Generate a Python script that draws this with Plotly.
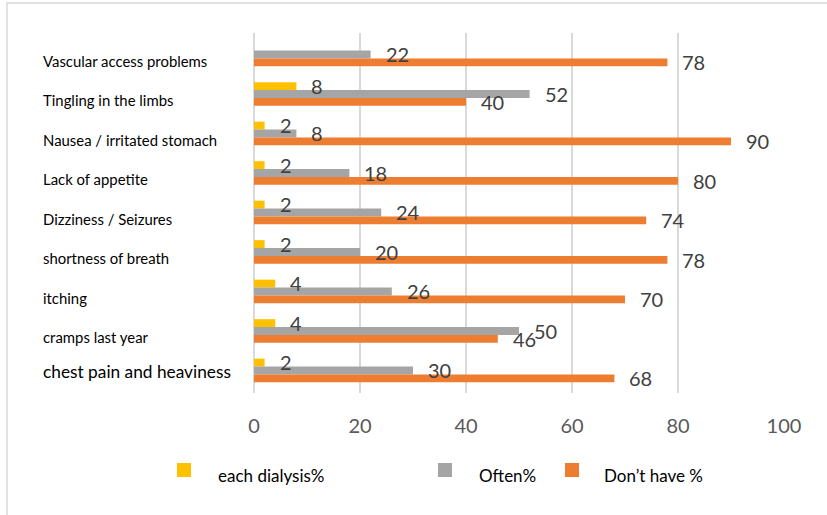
import plotly.graph_objects as go

# Symptoms, listed top to bottom as they appear on the chart
categories = [
    "Vascular access problems",
    "Tingling in the limbs",
    "Nausea / irritated stomach",
    "Lack of appetite",
    "Dizziness / Seizures",
    "shortness of breath",
    "itching",
    "cramps last year",
    "chest pain and heaviness",
]
each_dialysis = [0, 8, 2, 2, 2, 2, 4, 4, 2]
often = [22, 52, 8, 18, 24, 20, 26, 50, 30]
dont_have = [78, 40, 90, 80, 74, 78, 70, 46, 68]

series_names = ["each dialysis%", "Often%", "Don\u2019t have %"]
series_values = [each_dialysis, often, dont_have]
series_colors = ["#FFC000", "#A5A5A5", "#ED7D31"]

x_ticks = [0, 20, 40, 60, 80, 100]

W, H = 827, 515
ML, MR, MT, MB = 254, 43, 33, 122
PW, PH = W - ML - MR, H - MT - MB
FONT = "Lato"


def px_x(px):
    return (px - ML) / PW


def px_y(py):
    return (H - MB - py) / PH


fig = go.Figure()
for name, vals, color in zip(series_names, series_values, series_colors):
    fig.add_trace(go.Bar(
        y=categories, x=vals, name=name, orientation="h",
        marker=dict(color=color, line=dict(width=0)),
        showlegend=False, hoverinfo="x+name",
    ))

annotations = []
# value labels beside each bar, centred on their bar
label_yshift = [8.5, 0.5, -7.5]
for vals, ys in zip(series_values, label_yshift):
    for cat, v in zip(categories, vals):
        if v == 0:
            continue
        annotations.append(dict(
            x=v, y=cat, xref="x", yref="y", text=str(v), showarrow=False,
            xanchor="left", yanchor="middle", xshift=13, yshift=ys,
            font=dict(family=FONT, size=20, color="#404040"),
        ))

# category labels, left aligned
for cat in categories:
    big = cat == "chest pain and heaviness"
    annotations.append(dict(
        x=px_x(41), y=cat, xref="paper", yref="y", text=cat, showarrow=False,
        xanchor="left", yanchor="middle", yshift=-0.5 if big else -6,
        font=dict(family=FONT, size=17.3 if big else 14.9, color="#000000"),
    ))

# legend entries
shapes = []
legend_items = [(177, 216), (438, 477), (565, 602)]
for (sx, tx), name, color in zip(legend_items, series_names, series_colors):
    shapes.append(dict(
        type="rect", xref="paper", yref="paper",
        x0=px_x(sx), x1=px_x(sx + 14), y0=px_y(477), y1=px_y(463),
        fillcolor=color, line=dict(width=0),
    ))
    annotations.append(dict(
        x=px_x(tx), y=px_y(475.5), xref="paper", yref="paper", text=name,
        showarrow=False, xanchor="left", yanchor="middle",
        font=dict(family=FONT, size=17, color="#000000"),
    ))

# chart border
shapes.append(dict(
    type="rect", xref="paper", yref="paper",
    x0=px_x(7), x1=px_x(840), y0=px_y(530), y1=px_y(3),
    line=dict(color="#D9D9D9", width=1.5), fillcolor="rgba(0,0,0,0)", layer="below",
))

fig.update_layout(
    width=W, height=H,
    margin=dict(l=ML, r=MR, t=MT, b=MB, pad=0),
    paper_bgcolor="white", plot_bgcolor="white",
    barmode="group", bargap=0.4, bargroupgap=0,
    font=dict(family=FONT),
    xaxis=dict(
        range=[0, 100], tickvals=x_ticks, ticktext=[str(t) for t in x_ticks],
        showgrid=True, gridcolor="#D9D9D9", gridwidth=1.5,
        zeroline=True, zerolinecolor="#D9D9D9", zerolinewidth=1.5,
        showline=False, ticks="", ticklabelstandoff=19,
        tickfont=dict(family=FONT, size=20, color="#595959"),
        fixedrange=True,
    ),
    yaxis=dict(
        autorange="reversed", showticklabels=False, showgrid=False,
        zeroline=False, showline=False, ticks="", fixedrange=True,
    ),
    annotations=annotations,
    shapes=shapes,
)

fig.write_html("out.html")
